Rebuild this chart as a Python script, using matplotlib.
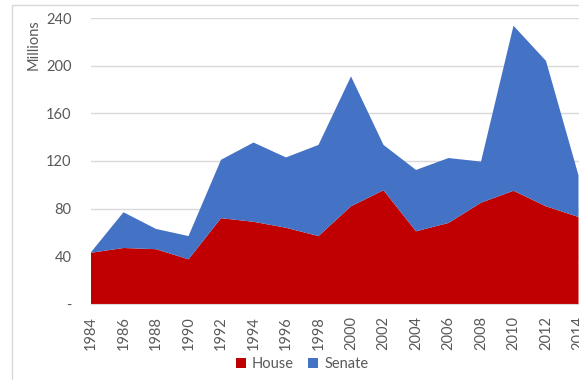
import matplotlib
matplotlib.use("Agg")
import matplotlib.pyplot as plt
from matplotlib.patches import Rectangle, Patch

years = [1984, 1986, 1988, 1990, 1992, 1994, 1996, 1998,
         2000, 2002, 2004, 2006, 2008, 2010, 2012, 2014]
house = [43, 47, 46, 37.5, 72, 69, 64, 57, 82, 95.5, 61, 68, 85, 95, 82, 73]
senate = [0.5, 30, 17, 19.5, 49, 66.5, 59, 76.5, 109, 38, 51.5, 54.5, 34.5, 138.5, 122, 35]
y_ticks = [0, 40, 80, 120, 160, 200, 240]
y_tick_labels = ["-", "40", "80", "120", "160", "200", "240"]
series_names = ["House", "Senate"]

HOUSE_RED = "#C00000"
SENATE_BLUE = "#4472C4"
TEXT_GRAY = "#595959"
GRID_GRAY = "#D9D9D9"

plt.rcParams["font.family"] = ["Lato", "DejaVu Sans"]

W, H = 579, 380
fig = plt.figure(figsize=(W / 100, H / 100), dpi=100)

# chart-area border (extends past the right and bottom edges)
fig.patches.append(Rectangle((12 / W, -0.1), 1.2, (H - 5) / H + 0.1,
                             transform=fig.transFigure, fill=False,
                             edgecolor=GRID_GRAY, linewidth=1.0))

left, right, bottom, top = 91, 578.5, 304, 18
ax = fig.add_axes([left / W, (H - bottom) / H, (right - left) / W, (bottom - top) / H])

ax.stackplot(years, house, senate, colors=[HOUSE_RED, SENATE_BLUE],
             labels=series_names, linewidth=0, zorder=2)

ax.set_xlim(1984, 2014)
ax.set_ylim(0, 240)
ax.set_xticks(years)
ax.set_xticklabels([str(y) for y in years], rotation=90, fontsize=10.5, color=TEXT_GRAY)
ax.set_yticks(y_ticks)
ax.set_yticklabels(y_tick_labels, fontsize=10.5, color=TEXT_GRAY)
ax.tick_params(axis="both", length=0)
ax.tick_params(axis="y", pad=14)
ax.tick_params(axis="x", pad=9)
ax.grid(axis="y", color=GRID_GRAY, linewidth=1.0, zorder=0)
ax.set_axisbelow(True)
for s in ax.spines.values():
    s.set_visible(False)
ax.spines["bottom"].set_visible(True)
ax.spines["bottom"].set_color(GRID_GRAY)

fig.text(34 / W, 1 - 45 / H, "Millions", rotation=90, ha="center", va="center",
         fontsize=10.5, color=TEXT_GRAY)

handles = [Patch(facecolor=HOUSE_RED, edgecolor="none"),
           Patch(facecolor=SENATE_BLUE, edgecolor="none")]
fig.legend(handles, series_names, loc="center", bbox_to_anchor=(302 / W, 1 - 364 / H),
           ncol=2, frameon=False, fontsize=10.5, labelcolor=TEXT_GRAY,
           handlelength=0.7, handleheight=0.7, handletextpad=0.4, columnspacing=1.0)

fig.savefig("out.png", dpi=100)
